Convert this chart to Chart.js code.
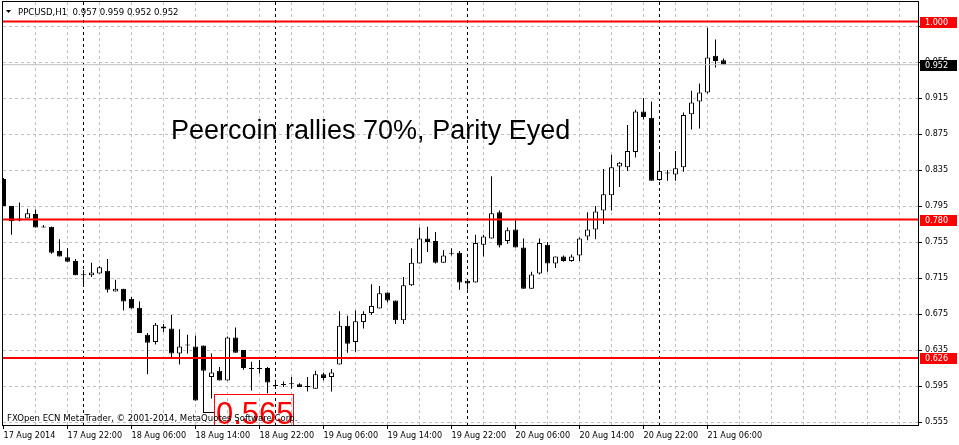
<!DOCTYPE html>
<html>
<head>
<meta charset="utf-8">
<title>PPCUSD,H1</title>
<script src="https://cdn.jsdelivr.net/npm/chart.js@4.4.1/dist/chart.umd.min.js"></script>
<style>
    html, body { margin: 0; padding: 0; background: #ffffff; }
    #wrap { position: relative; width: 959px; height: 445px; }
</style>
</head>
<body>
<div id="wrap"><canvas id="chart"></canvas></div>
<script>
// PPCUSD H1 candles, 17 Aug 2014 14:00 -> 21 Aug 2014 08:00
const openP = [
    0.825, 0.795, 0.779, 0.781, 0.786, 0.772, 0.772, 0.745, 0.738, 0.734,
    0.718, 0.718, 0.720, 0.723, 0.700, 0.703, 0.692, 0.682, 0.652, 0.644,
    0.659, 0.659, 0.631, 0.640, 0.639, 0.640, 0.605, 0.612, 0.601, 0.649,
    0.635, 0.614, 0.614, 0.615, 0.595, 0.596, 0.597, 0.597, 0.594, 0.592,
    0.608, 0.605, 0.619, 0.662, 0.644, 0.666, 0.676, 0.681, 0.699, 0.690,
    0.668, 0.707, 0.731, 0.759, 0.756, 0.732, 0.742, 0.743, 0.712, 0.710,
    0.752, 0.759, 0.788, 0.756, 0.769, 0.749, 0.703, 0.720, 0.752, 0.731,
    0.739, 0.734, 0.740, 0.761, 0.769, 0.790, 0.807, 0.839, 0.838, 0.855,
    0.900, 0.893, 0.824, 0.831, 0.830, 0.838, 0.897, 0.911, 0.921, 0.962,
    0.957
];
const highP = [
    0.826, 0.795, 0.799, 0.792, 0.791, 0.774, 0.772, 0.758, 0.748, 0.736,
    0.724, 0.732, 0.728, 0.736, 0.713, 0.703, 0.694, 0.689, 0.654, 0.665,
    0.664, 0.674, 0.658, 0.652, 0.651, 0.640, 0.631, 0.616, 0.650, 0.660,
    0.635, 0.622, 0.624, 0.616, 0.602, 0.600, 0.605, 0.598, 0.605, 0.612,
    0.610, 0.614, 0.678, 0.673, 0.679, 0.678, 0.708, 0.706, 0.699, 0.690,
    0.716, 0.748, 0.771, 0.772, 0.766, 0.746, 0.748, 0.745, 0.712, 0.763,
    0.763, 0.828, 0.790, 0.771, 0.779, 0.759, 0.722, 0.759, 0.755, 0.739,
    0.740, 0.741, 0.760, 0.788, 0.795, 0.836, 0.852, 0.844, 0.885, 0.902,
    0.915, 0.911, 0.854, 0.835, 0.856, 0.899, 0.923, 0.931, 0.993, 0.980,
    0.959
];
const lowP = [
    0.795, 0.763, 0.778, 0.781, 0.771, 0.771, 0.742, 0.739, 0.733, 0.718,
    0.705, 0.716, 0.720, 0.699, 0.700, 0.679, 0.681, 0.654, 0.608, 0.641,
    0.655, 0.625, 0.619, 0.631, 0.579, 0.565, 0.581, 0.601, 0.601, 0.632,
    0.613, 0.590, 0.609, 0.587, 0.592, 0.594, 0.592, 0.594, 0.589, 0.592,
    0.601, 0.589, 0.619, 0.632, 0.633, 0.659, 0.674, 0.681, 0.688, 0.664,
    0.664, 0.706, 0.731, 0.744, 0.731, 0.732, 0.740, 0.702, 0.702, 0.710,
    0.739, 0.759, 0.749, 0.753, 0.749, 0.703, 0.703, 0.719, 0.722, 0.726,
    0.733, 0.733, 0.734, 0.757, 0.758, 0.775, 0.790, 0.816, 0.834, 0.849,
    0.891, 0.823, 0.823, 0.823, 0.823, 0.833, 0.880, 0.881, 0.920, 0.949,
    0.952
];
const closeP = [
    0.795, 0.778, 0.781, 0.787, 0.771, 0.771, 0.743, 0.739, 0.733, 0.718,
    0.718, 0.721, 0.727, 0.702, 0.703, 0.689, 0.681, 0.654, 0.643, 0.663,
    0.661, 0.631, 0.639, 0.640, 0.579, 0.612, 0.610, 0.601, 0.649, 0.632,
    0.615, 0.614, 0.614, 0.599, 0.595, 0.596, 0.597, 0.594, 0.594, 0.608,
    0.604, 0.610, 0.662, 0.642, 0.667, 0.675, 0.684, 0.698, 0.690, 0.668,
    0.707, 0.732, 0.759, 0.755, 0.732, 0.740, 0.742, 0.710, 0.709, 0.754,
    0.761, 0.787, 0.751, 0.768, 0.749, 0.703, 0.719, 0.754, 0.731, 0.739,
    0.734, 0.739, 0.759, 0.769, 0.789, 0.808, 0.838, 0.843, 0.856, 0.900,
    0.894, 0.823, 0.834, 0.831, 0.837, 0.896, 0.910, 0.921, 0.960, 0.956,
    0.952
];

// one label every 8 candles
const xTickLabels = [
    "17 Aug 2014", "17 Aug 22:00", "18 Aug 06:00", "18 Aug 14:00",
    "18 Aug 22:00", "19 Aug 06:00", "19 Aug 14:00", "19 Aug 22:00",
    "20 Aug 06:00", "20 Aug 14:00", "20 Aug 22:00", "21 Aug 06:00"
];
const priceTicks = [0.555, 0.595, 0.635, 0.675, 0.715, 0.755, 0.795, 0.835, 0.875, 0.915, 0.955, 0.995];
const levelLines = [1.000, 0.780, 0.626];
const lastPrice = 0.952;
const lowMark = 0.565;

const symbolTitle = "PPCUSD,H1";
const headline = "Peercoin rallies 70%, Parity Eyed";
const footer = "FXOpen ECN MetaTrader, \u00a9 2001-2014, MetaQuotes Software Corp.";

const firstHour = 14;      // first candle is 17 Aug 14:00
const smallFont = '"DejaVu Sans Condensed", "DejaVu Sans", sans-serif';

document.addEventListener("DOMContentLoaded", function () {
    const idx = openP.map((v, i) => i);
    const dayStarts = idx.filter(i => (firstHour + i) % 24 === 0);

    const bodies = idx.map(i => ({ x: i, y: [openP[i], closeP[i]] }));
    const wicks = idx.map(i => ({ x: i, y: [lowP[i], highP[i]] }));

    const xMin = -0.0625, xMax = 114.3125;
    const yMin = 0.551667, yMax = 1.021667;

    const hLine = (v, color, width) => ({
        type: "line",
        data: [{ x: xMin, y: v }, { x: xMax, y: v }],
        borderColor: color,
        borderWidth: width,
        pointRadius: 0,
        order: 0
    });

    // texts, price tags, frame
    const overlay = {
        id: "overlay",
        afterDraw(chart) {
            const { ctx, chartArea: a, scales: { y } } = chart;
            ctx.save();

            ctx.strokeStyle = "#000";
            ctx.lineWidth = 1;
            ctx.strokeRect(a.left - 0.5, a.top - 0.5, a.right - a.left + 1, a.bottom - a.top + 1);

            // title
            ctx.fillStyle = "#000";
            ctx.beginPath();
            ctx.moveTo(6, 10); ctx.lineTo(11, 10); ctx.lineTo(8.5, 13); ctx.closePath();
            ctx.fill();
            ctx.font = "9.5px " + smallFont;
            ctx.textBaseline = "alphabetic";
            const n = openP.length - 1;
            const ohlc = [openP[n], highP[n], lowP[n], closeP[n]].map(v => v.toFixed(3)).join(" ");
            ctx.fillText(symbolTitle + "  " + ohlc, 18, 15);

            // headline
            ctx.font = '27px "Liberation Sans", Arial, sans-serif';
            ctx.fillText(headline, 171, 139);

            // low marker
            ctx.save();
            ctx.beginPath();
            ctx.rect(a.left, a.top, a.right - a.left, a.bottom - a.top);
            ctx.clip();
            const ly = Math.round(y.getPixelForValue(lowMark)) - 0.5;
            ctx.strokeStyle = "#000";
            ctx.beginPath();
            ctx.moveTo(203.5, ly); ctx.lineTo(214.5, ly);
            ctx.stroke();
            ctx.strokeStyle = "#ff0000";
            ctx.strokeRect(214.5, 394.5, 79, 40);
            ctx.fillStyle = "#ff0000";
            ctx.font = '31px "Liberation Sans", Arial, sans-serif';
            ctx.fillText(lowMark.toFixed(3), 216, 424);
            ctx.restore();

            // footer
            ctx.fillStyle = "#000";
            ctx.font = "9.5px " + smallFont;
            ctx.fillText(footer, 7, 421);

            // price tags on the right axis
            ctx.font = "9px " + smallFont;
            ctx.textBaseline = "middle";
            const tag = (v, bg) => {
                const py = Math.round(y.getPixelForValue(v));
                ctx.fillStyle = bg;
                ctx.fillRect(a.right + 2, py - 5, 37, 11);
                ctx.fillStyle = "#fff";
                ctx.fillText(v.toFixed(3), a.right + 7, py + 0.5);
            };
            levelLines.forEach(v => tag(v, "#ff0000"));
            tag(lastPrice, "#000000");

            ctx.restore();
        }
    };

    const ctx = document.getElementById("chart").getContext("2d");
    new Chart(ctx, {
        type: "bar",
        data: {
            datasets: [
                ...levelLines.map(v => hLine(v, "#ff0000", 2)),
                hLine(lastPrice, "#c0c0c0", 1),
                {
                    data: bodies,
                    barThickness: 5,
                    minBarLength: 1,
                    grouped: false,
                    inflateAmount: 0,
                    borderSkipped: false,
                    borderWidth: 1,
                    borderColor: "#000",
                    backgroundColor: (c) => closeP[c.dataIndex] > openP[c.dataIndex] ? "#ffffff" : "#000000",
                    order: 1
                },
                {
                    data: wicks,
                    barThickness: 1,
                    grouped: false,
                    inflateAmount: 0,
                    borderWidth: 0,
                    backgroundColor: "#000",
                    order: 2
                }
            ]
        },
        options: {
            responsive: true,
            maintainAspectRatio: false,
            animation: false,
            events: [],
            layout: { padding: { left: 3, top: 2, right: 0, bottom: 0 } },
            plugins: { legend: { display: false }, tooltip: { enabled: false } },
            scales: {
                x: {
                    type: "linear",
                    min: xMin,
                    max: xMax,
                    offset: false,
                    afterBuildTicks: (scale) => {
                        const t = [];
                        for (let v = 0; v <= xMax; v += 4) t.push(v);
                        dayStarts.forEach(v => { if (!t.includes(v)) t.push(v); });
                        t.sort((p, q) => p - q);
                        scale.ticks = t.map(v => ({ value: v }));
                    },
                    afterFit: (scale) => {
                        scale.height = 20;
                        scale.paddingLeft = 0;
                        scale.paddingRight = 0;
                    },
                    ticks: {
                        autoSkip: false,
                        maxRotation: 0,
                        align: "start",
                        padding: 1,
                        color: "#000",
                        font: { family: smallFont, size: 9 },
                        callback: (v) => (v % 8 === 0 && xTickLabels[v / 8]) ? xTickLabels[v / 8] : ""
                    },
                    grid: {
                        offset: false,
                        color: (c) => dayStarts.includes(c.tick.value) ? "#000000" :
                            (c.tick.value > 0 ? "#c0c0c0" : "rgba(0,0,0,0)"),
                        tickColor: (c) => (c.tick.value % 8 === 0 && c.tick.value / 8 < xTickLabels.length) ? "#000" : "rgba(0,0,0,0)",
                        tickLength: 4
                    },
                    border: { color: "#000", dash: [3, 3] }
                },
                y: {
                    position: "right",
                    min: yMin,
                    max: yMax,
                    beginAtZero: false,
                    afterBuildTicks: (scale) => {
                        scale.ticks = priceTicks.map(v => ({ value: v }));
                    },
                    afterFit: (scale) => {
                        scale.width = 41;
                        scale.paddingTop = 0;
                        scale.paddingBottom = 0;
                    },
                    ticks: {
                        padding: 3,
                        color: "#000",
                        font: { family: smallFont, size: 9 },
                        callback: (v) => Number(v).toFixed(3)
                    },
                    grid: {
                        color: "#c0c0c0",
                        tickColor: "#000",
                        tickLength: 4
                    },
                    border: { color: "#000", dash: [3, 3] }
                }
            }
        },
        plugins: [overlay]
    });
});
</script>
</body>
</html>
